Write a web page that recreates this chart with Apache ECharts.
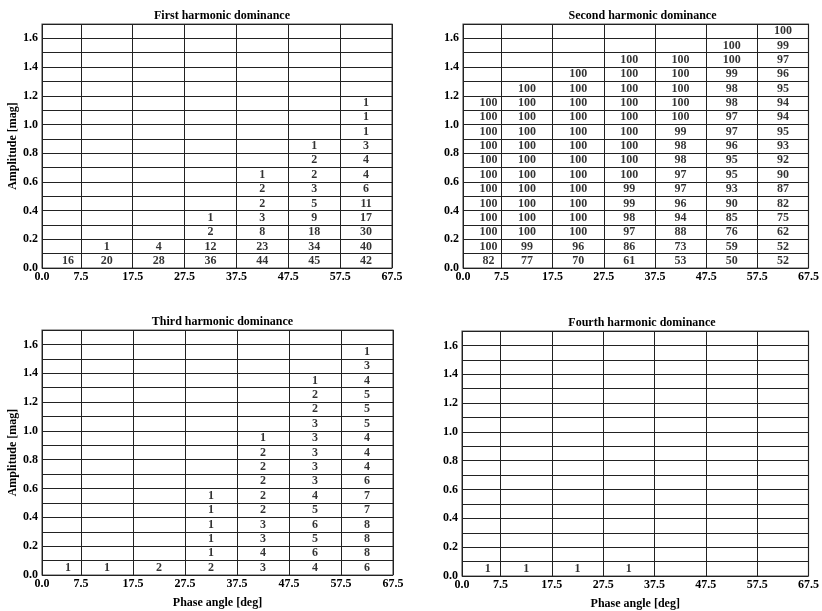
<!DOCTYPE html>
<html>
<head>
<meta charset="utf-8">
<script src="https://cdn.jsdelivr.net/npm/echarts@6/dist/echarts.min.js"></script>
<style>
  html, body { margin: 0; padding: 0; background: #fff; }
  #chart { width: 822px; height: 611px; }
</style>
</head>
<body>
<div id="chart"></div>
<script>
// phase angle bin edges (tick labels) and where the counts are written
var phaseTicks = [0, 7.5, 17.5, 27.5, 37.5, 47.5, 57.5, 67.5];
var phaseCenters = [5, 12.5, 22.5, 32.5, 42.5, 52.5, 62.5];
// amplitude bin centres, 0.0-0.1 ... 1.6-1.7
var ampCenters = [0.05, 0.15, 0.25, 0.35, 0.45, 0.55, 0.65, 0.75, 0.85,
  0.95, 1.05, 1.15, 1.25, 1.35, 1.45, 1.55, 1.65];

var titles = ["First harmonic dominance", "Second harmonic dominance",
  "Third harmonic dominance", "Fourth harmonic dominance"];

// counts per phase column, listed from the lowest amplitude bin upward
var firstHarmonic = [
  [16],
  [20, 1],
  [28, 4],
  [36, 12, 2, 1],
  [44, 23, 8, 3, 2, 2, 1],
  [45, 34, 18, 9, 5, 3, 2, 2, 1],
  [42, 40, 30, 17, 11, 6, 4, 4, 3, 1, 1, 1]
];
var secondHarmonic = [
  [82, 100, 100, 100, 100, 100, 100, 100, 100, 100, 100, 100],
  [77, 99, 100, 100, 100, 100, 100, 100, 100, 100, 100, 100, 100],
  [70, 96, 100, 100, 100, 100, 100, 100, 100, 100, 100, 100, 100, 100],
  [61, 86, 97, 98, 99, 99, 100, 100, 100, 100, 100, 100, 100, 100, 100],
  [53, 73, 88, 94, 96, 97, 97, 98, 98, 99, 100, 100, 100, 100, 100],
  [50, 59, 76, 85, 90, 93, 95, 95, 96, 97, 97, 98, 98, 99, 100, 100],
  [52, 52, 62, 75, 82, 87, 90, 92, 93, 95, 94, 94, 95, 96, 97, 99, 100]
];
var thirdHarmonic = [
  [1],
  [1],
  [2],
  [2, 1, 1, 1, 1, 1],
  [3, 4, 3, 3, 2, 2, 2, 2, 2, 1],
  [4, 6, 5, 6, 5, 4, 3, 3, 3, 3, 3, 2, 2, 1],
  [6, 8, 8, 8, 7, 7, 6, 4, 4, 4, 5, 5, 5, 4, 3, 1]
];
var fourthHarmonic = [
  [1],
  [1],
  [1],
  [1],
  [],
  [],
  []
];
var panels = [firstHarmonic, secondHarmonic, thirdHarmonic, fourthHarmonic];

var FONT = "Liberation Serif";

// panel placement (px)
var grids = [
  { left: 42, right: 430, top: 24, bottom: 343 },
  { left: 463, right: 10, top: 24, bottom: 343 },
  { left: 42, right: 429, top: 330, bottom: 36 },
  { left: 462, right: 10, top: 331, bottom: 35 }
];

/**
 * flatten the column lists into [phase, amplitude, count] points
 * @param {array} cols counts per column
 */
function toPoints(cols) {
  var pts = [];
  cols.forEach(function (col, i) {
    col.forEach(function (v, j) {
      pts.push([phaseCenters[i], ampCenters[j], v]);
    });
  });
  return pts;
}

var chart = echarts.init(document.getElementById("chart"));

var option = {
  animation: false,
  backgroundColor: "#fff",
  title: grids.map(function (g, i) {
    var plotLeft = g.left;
    var plotRight = 822 - g.right;
    return {
      text: titles[i],
      left: (plotLeft + plotRight) / 2,
      top: g.top - 19,
      textAlign: "center",
      textStyle: { fontFamily: FONT, fontWeight: "bold", fontSize: 12, color: "#000" }
    };
  }),
  grid: grids.map(function (g) {
    return {
      left: g.left, right: g.right, top: g.top, bottom: g.bottom,
      show: true, borderColor: "#555", borderWidth: 1.2, containLabel: false
    };
  }),
  xAxis: grids.map(function (g, i) {
    return {
      type: "value",
      gridIndex: i,
      min: 0,
      max: 67.5,
      name: i >= 2 ? "Phase angle [deg]" : "",
      nameLocation: "middle",
      nameGap: 22,
      nameTextStyle: { fontFamily: FONT, fontWeight: "bold", fontSize: 12, color: "#000" },
      axisLine: { show: false },
      axisTick: { show: false, customValues: phaseTicks },
      axisLabel: {
        customValues: phaseTicks,
        formatter: function (v) { return v.toFixed(1); },
        fontFamily: FONT, fontWeight: "bold", fontSize: 12, color: "#000", margin: 3
      },
      splitLine: { show: true, lineStyle: { color: "#222", width: 1 } }
    };
  }),
  yAxis: grids.map(function (g, i) {
    return {
      type: "value",
      gridIndex: i,
      min: 0,
      max: 1.7,
      interval: 0.1,
      name: i % 2 === 0 ? "Amplitude [mag]" : "",
      nameLocation: "middle",
      nameGap: 19,
      nameTextStyle: { fontFamily: FONT, fontWeight: "bold", fontSize: 12, color: "#000" },
      axisLine: { show: false },
      axisTick: { show: false },
      axisLabel: {
        // label every second amplitude line
        formatter: function (v) {
          return Math.round(v * 10) % 2 === 0 ? v.toFixed(1) : "";
        },
        fontFamily: FONT, fontWeight: "bold", fontSize: 12, color: "#000", margin: 4
      },
      splitLine: { show: true, lineStyle: { color: "#222", width: 1 } }
    };
  }),
  series: panels.map(function (cols, i) {
    return {
      type: "scatter",
      xAxisIndex: i,
      yAxisIndex: i,
      silent: true,
      symbolSize: 1,
      itemStyle: { color: "rgba(0,0,0,0)" },
      label: {
        show: true,
        position: "inside",
        formatter: function (p) { return p.value[2]; },
        fontFamily: FONT, fontWeight: "bold", fontSize: 12, color: "#000"
      },
      data: toPoints(cols)
    };
  })
};

chart.setOption(option);
</script>
</body>
</html>
